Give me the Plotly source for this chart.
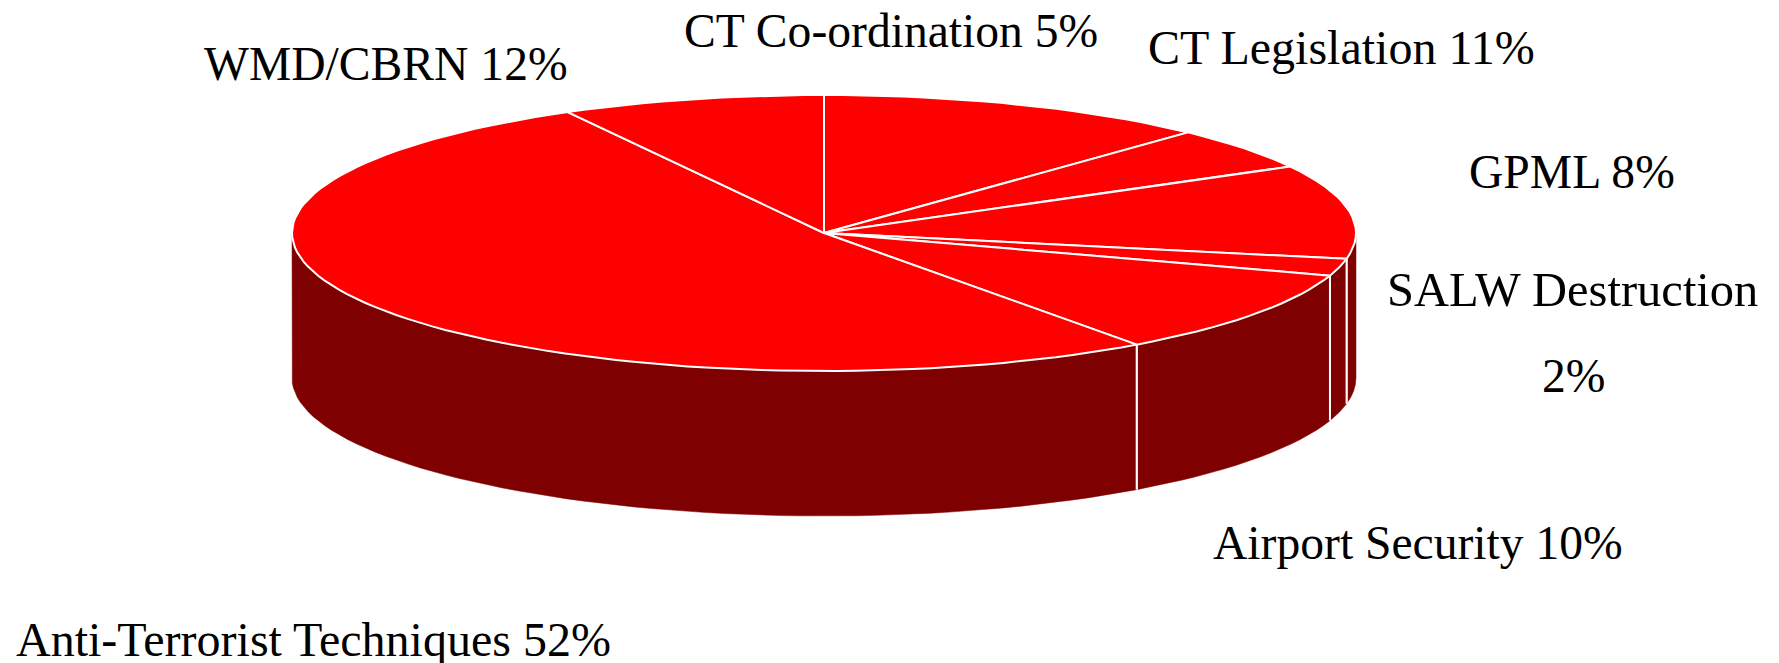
import numpy as np
import plotly.graph_objects as go

# Slices clockwise from 12 o'clock, as drawn
slice_names = ["WMD/CBRN", "CT Co-ordination", "CT Legislation", "SALW Destruction",
               "Airport Security", "Anti-Terrorist Techniques", "GPML"]
slice_values = [12, 5, 11, 2, 10, 52, 8]

W, H = 1779, 663
HUB_X, HUB_Y, RX, RY, DEPTH_PX = 824.0, 233.0, 532.0, 138.0, 145.0
DEPTH = DEPTH_PX / RY
TOP = "#FF0000"
SIDE = "#7F0000"
EDGE = "white"

# label placement, pixels: left edge and vertical centre
label_text = ["CT Co-ordination 5%", "CT Legislation 11%", "WMD/CBRN 12%", "GPML 8%",
              "SALW Destruction", "2%", "Airport Security 10%", "Anti-Terrorist Techniques 52%"]
label_left = [684, 1148, 204, 1469, 1387, 1542, 1213, 16]
label_mid = [31, 48, 64, 172, 289, 376, 543, 639]
label_size = [47.6, 48, 47.6, 47.6, 48.5, 47.6, 47.6, 48]

edges = np.deg2rad(np.concatenate([[0], np.cumsum(slice_values)]) * 3.6)
fig = go.Figure()


def arc(a, b, n=90):
    return np.linspace(a, b, max(3, int(n * (b - a) / np.pi)))


# Side wall: only the front half (90..270 deg) faces the viewer
for a, b, name in zip(edges[:-1], edges[1:], slice_names):
    lo, hi = max(a, np.pi / 2), min(b, 3 * np.pi / 2)
    if hi <= lo:
        continue
    t = arc(lo, hi)
    x = np.concatenate([np.sin(t), np.sin(t[::-1])])
    y = np.concatenate([np.cos(t), np.cos(t[::-1]) - DEPTH])
    fig.add_trace(go.Scatter(x=np.append(x, x[0]), y=np.append(y, y[0]), mode="lines", fill="toself",
                             fillcolor=SIDE, line=dict(color=SIDE, width=0.5), name=name,
                             hoverinfo="skip", showlegend=False))
    # white rib where a slice boundary meets the wall
    for e in (a, b):
        if np.pi / 2 < e < 3 * np.pi / 2:
            fig.add_trace(go.Scatter(x=[np.sin(e)] * 2, y=[np.cos(e), np.cos(e) - DEPTH], mode="lines",
                                     line=dict(color=EDGE, width=2), hoverinfo="skip", showlegend=False))

# Top face
for a, b, name, v in zip(edges[:-1], edges[1:], slice_names, slice_values):
    t = arc(a, b)
    x = np.concatenate([[0], np.sin(t), [0]])
    y = np.concatenate([[0], np.cos(t), [0]])
    fig.add_trace(go.Scatter(x=x, y=y, mode="lines", fill="toself", fillcolor=TOP,
                             line=dict(color=EDGE, width=2), name=name,
                             text=f"{name} {v}%", hoverinfo="text", showlegend=False))

for txt, left, mid, size in zip(label_text, label_left, label_mid, label_size):
    fig.add_annotation(text=txt, xref="paper", yref="paper", x=left / W, y=1 - mid / H,
                       xanchor="left", yanchor="middle", showarrow=False,
                       font=dict(family="Liberation Serif", size=size, color="black"),
                       borderpad=0, borderwidth=0)

fig.update_layout(
    width=W, height=H, margin=dict(l=0, r=0, t=0, b=0),
    paper_bgcolor="white", plot_bgcolor="white", showlegend=False,
    xaxis=dict(range=[-HUB_X / RX, (W - HUB_X) / RX], visible=False, fixedrange=True),
    yaxis=dict(range=[(HUB_Y - H) / RY, HUB_Y / RY], visible=False, fixedrange=True),
)
fig.write_html("out.html", config=dict(displayModeBar=False),
               post_script="document.body.style.margin='0';document.documentElement.style.overflow='hidden';")
